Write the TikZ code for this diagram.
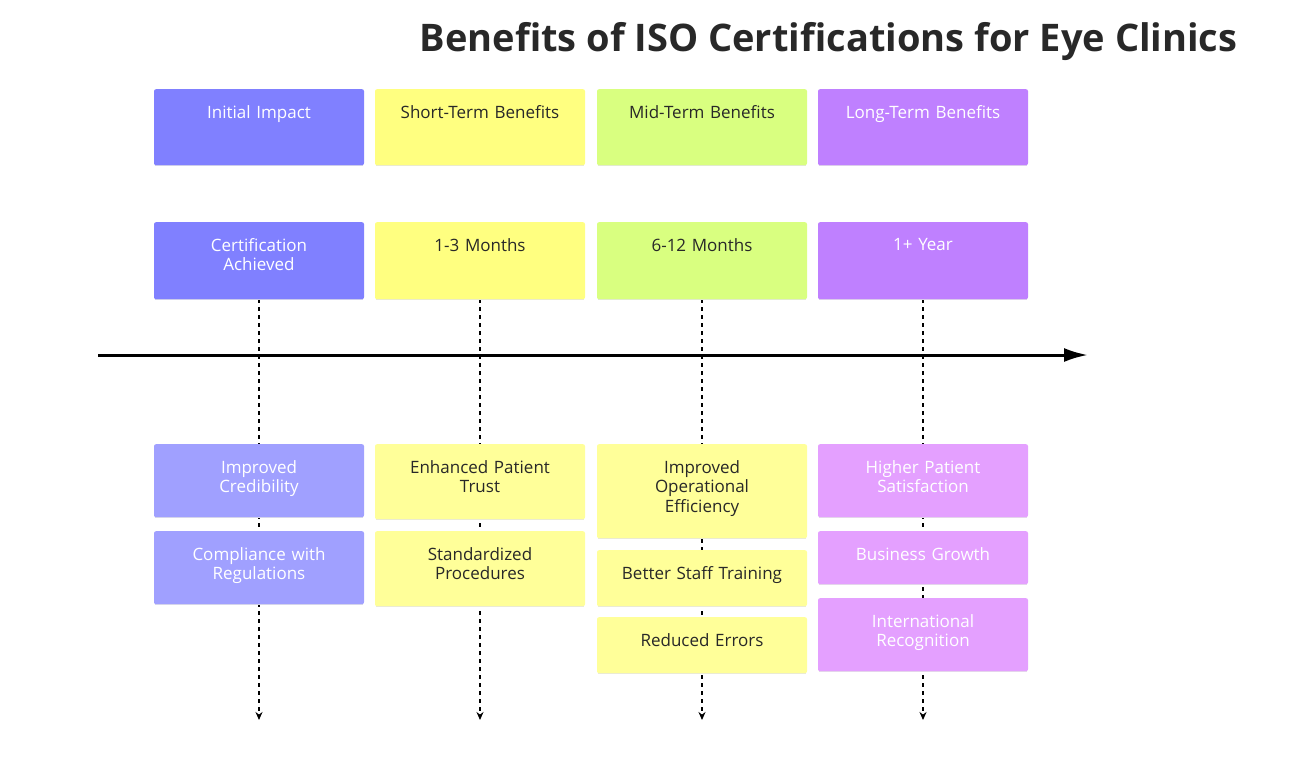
\documentclass[tikz,border=0pt]{standalone}
\usepackage{fontspec}
\setmainfont{Open Sans}
\usetikzlibrary{arrows.meta}
\tikzset{>={Latex[width=3mm,length=3mm]}}
\definecolor{ColorA}{RGB}{128,128,255}
\definecolor{ColorB}{RGB}{255,255,128}
\definecolor{ColorC}{RGB}{217,255,128}
\definecolor{ColorD}{RGB}{191,128,255}
\definecolor{ColorAl}{RGB}{160,160,255}
\definecolor{ColorBl}{RGB}{255,255,153}
\definecolor{ColorDl}{RGB}{228,160,255}
\definecolor{TextDark}{RGB}{40,40,40}
\tikzset{
  card/.style={fill=#1,rounded corners=2pt,minimum width=210pt,anchor=north,inner sep=0pt},
  cardtext/.style={anchor=north,align=center,font=\fontsize{17}{19.5}\selectfont,text width=205pt,inner sep=0pt},
  guide/.style={line width=1.3pt,dash pattern=on 4pt off 4pt,-{Stealth[length=8pt,width=7pt]}}
}
% card: name, x, ytop, height, fill, textcolour, text
\newcommand{\card}[7]{%
  \node[card=#5,minimum height=#4pt] (#1) at (#2,#3) {};
  \draw[#5!60!gray!40,line width=1.5pt] ([xshift=1pt]#1.south west) -- ([xshift=-1pt]#1.south east);
  \node[cardtext,text=#6] (#1t) at ([yshift=-16pt]#1.north) {#7};}

\begin{document}
\begin{tikzpicture}[x=1pt,y=-1pt]
		\useasboundingbox (0,0) rectangle (1303,782);

		% title
		\node[anchor=east,font=\fontsize{38}{44}\selectfont\bfseries,text=TextDark] (title) at (1241,42) {Benefits of ISO Certifications for Eye Clinics};

		% guide lines
		\foreach \x/\n in {259/a,480/b,702/c,923/d} {
			\coordinate (top\n) at (\x,299);
			\coordinate (end\n) at (\x,720);
			\draw[guide] (top\n) -- (end\n);
		}

		% time axis
		\coordinate (axisL) at (98,355);
		\coordinate (axisR) at (1088,355);
		\draw[line width=3pt,-{Latex[length=24pt,width=14pt]}] (axisL) -- (axisR);

		% phase headers
		\card{hA}{259}{89}{76}{ColorA}{white}{Initial Impact}
		\card{hB}{480}{89}{76}{ColorB}{TextDark}{Short-Term Benefits}
		\card{hC}{702}{89}{76}{ColorC}{TextDark}{Mid-Term Benefits}
		\card{hD}{923}{89}{76}{ColorD}{white}{Long-Term Benefits}

		% periods
		\card{pA}{259}{222}{77}{ColorA}{white}{Certification\\Achieved}
		\card{pB}{480}{222}{77}{ColorB}{TextDark}{1-3 Months}
		\card{pC}{702}{222}{77}{ColorC}{TextDark}{6-12 Months}
		\card{pD}{923}{222}{77}{ColorD}{white}{1+ Year}

		% benefits
		\card{bA1}{259}{444}{73}{ColorAl}{white}{Improved\\Credibility}
		\card{bA2}{259}{531}{73}{ColorAl}{white}{Compliance with\\Regulations}
		\card{bB1}{480}{444}{75}{ColorBl}{TextDark}{Enhanced Patient\\Trust}
		\card{bB2}{480}{531}{75}{ColorBl}{TextDark}{Standardized\\Procedures}
		\card{bC1}{702}{444}{94}{ColorBl}{TextDark}{Improved\\Operational\\Efficiency}
		\card{bC2}{702}{550}{56}{ColorBl}{TextDark}{Better Staff Training}
		\card{bC3}{702}{617}{56}{ColorBl}{TextDark}{Reduced Errors}
		\card{bD1}{923}{444}{73}{ColorDl}{white}{Higher Patient\\Satisfaction}
		\card{bD2}{923}{531}{53}{ColorDl}{white}{Business Growth}
		\card{bD3}{923}{598}{73}{ColorDl}{white}{International\\Recognition}
	\end{tikzpicture}
\end{document}
